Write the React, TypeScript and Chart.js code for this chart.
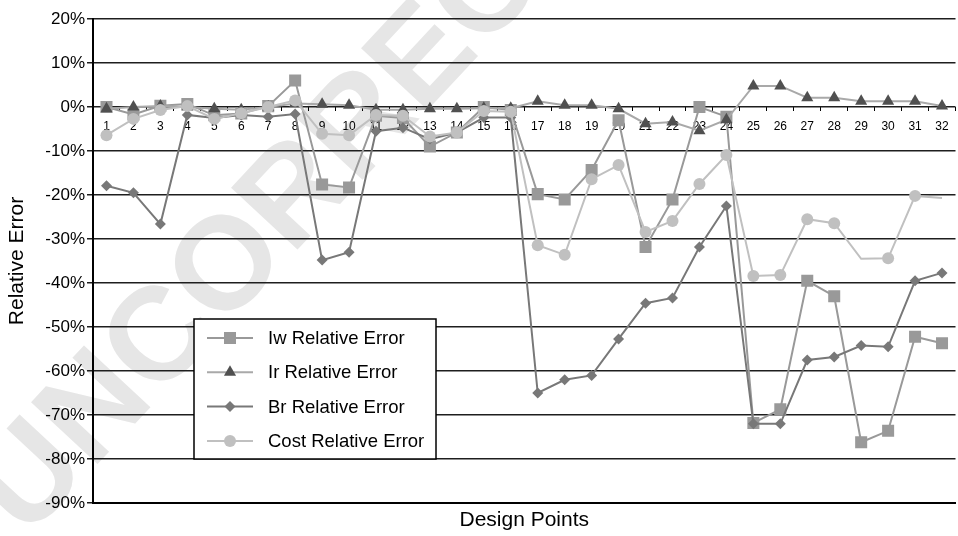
import React, { useEffect, useRef } from 'react';
import { Chart, registerables } from 'chart.js';

Chart.register(...registerables);

const designPoints = ['1', '2', '3', '4', '5', '6', '7', '8', '9', '10', '11', '12', '13', '14', '15', '16',
  '17', '18', '19', '20', '21', '22', '23', '24', '25', '26', '27', '28', '29', '30', '31', '32'];

const yTicks = [20, 10, 0, -10, -20, -30, -40, -50, -60, -70, -80, -90];

const iwRelativeError = [0, -1.7, 0.3, 0.7, -1.9, -1.5, 0.2, 6.0, -17.6, -18.3, -2.0, -2.5, -9.0, -5.8, 0.0, -0.7,
  -19.8, -21.0, -14.3, -3.0, -31.8, -21.0, 0.0, -2.2, -71.8, -68.7, -39.5, -43.0, -76.2, -73.6, -52.2, -53.7];

const irRelativeError = [-0.4, 0.0, 0.25, 0.0, -0.4, -0.6, 0.0, 0.8, 0.6, 0.4, -0.6, -0.6, -0.4, -0.4, -0.3, -0.3,
  1.3, 0.4, 0.4, -0.4, -3.8, -3.4, -5.4, -2.9, 4.8, 4.8, 2.1, 2.1, 1.3, 1.3, 1.3, 0.25];

const brRelativeError = [-17.9, -19.5, -26.6, -1.8, -2.5, -1.8, -2.2, -1.6, -34.8, -33.0, -5.5, -4.7, -7.3, -5.8, -2.4, -2.4,
  -65.0, -62.0, -61.0, -52.7, -44.6, -43.4, -31.8, -22.5, -72.0, -72.0, -57.5, -56.8, -54.2, -54.5, -39.5, -37.7];

const costRelativeError = [-6.4, -2.7, -0.7, 0.2, -2.7, -1.4, 0.0, 1.5, -6.1, -6.4, -1.8, -2.0, -6.7, -5.8, -0.9, -1.1,
  -31.4, -33.6, -16.4, -13.2, -28.4, -25.9, -17.5, -10.9, -38.4, -38.2, -25.5, -26.4, -34.5, -34.4, -20.2, -20.7];

// design points where the cost series shows no marker in the original
const costUnmarkedPoints = ['29', '32'];

const FONT = '"Liberation Sans", Arial, Helvetica, sans-serif';

type Series = {
  label: string;
  data: number[];
  line: string;
  fill: string;
  style: 'rect' | 'triangle' | 'rectRot' | 'circle';
  radius: number;
  order: number;
};

const series: Series[] = [
  { label: 'Iw Relative Error', data: iwRelativeError, line: '#999999', fill: '#999999', style: 'rect', radius: 8.5, order: 4 },
  { label: 'Ir Relative Error', data: irRelativeError, line: '#a9a9a9', fill: '#505050', style: 'triangle', radius: 7, order: 3 },
  { label: 'Br Relative Error', data: brRelativeError, line: '#787878', fill: '#787878', style: 'rectRot', radius: 5.5, order: 2 },
  { label: 'Cost Relative Error', data: costRelativeError, line: '#c0c0c0', fill: '#c0c0c0', style: 'circle', radius: 6, order: 1 },
];

function drawMarker(ctx: CanvasRenderingContext2D, style: string, x: number, y: number, r: number, color: string) {
  ctx.save();
  ctx.fillStyle = color;
  ctx.beginPath();
  if (style === 'rect') {
    const s = r * Math.SQRT2;
    ctx.rect(x - s / 2, y - s / 2, s, s);
  } else if (style === 'triangle') {
    ctx.moveTo(x, y - r);
    ctx.lineTo(x + 0.866 * r, y + 0.5 * r);
    ctx.lineTo(x - 0.866 * r, y + 0.5 * r);
    ctx.closePath();
  } else if (style === 'rectRot') {
    ctx.moveTo(x - r, y);
    ctx.lineTo(x, y - r);
    ctx.lineTo(x + r, y);
    ctx.lineTo(x, y + r);
    ctx.closePath();
  } else {
    ctx.arc(x, y, r, 0, Math.PI * 2);
  }
  ctx.fill();
  ctx.restore();
}

const watermarkPlugin = {
  id: 'watermark',
  beforeDraw(chart: any) {
    const ctx = chart.ctx as CanvasRenderingContext2D;
    ctx.save();
    ctx.translate(350, 140);
    ctx.rotate((-47 * Math.PI) / 180);
    ctx.font = `bold 132px ${FONT}`;
    ctx.fillStyle = '#e6e6e6';
    ctx.textAlign = 'center';
    ctx.textBaseline = 'middle';
    ctx.fillText('UNCORRECTED', 0, 0);
    ctx.restore();
  },
};

const legendBoxPlugin = {
  id: 'legendBox',
  afterDatasetsDraw(chart: any) {
    const ctx = chart.ctx as CanvasRenderingContext2D;
    const ca = chart.chartArea;
    const left = ca.left + 101;
    const top = ca.top + 300;
    const w = 242;
    const h = 140;
    ctx.save();
    ctx.fillStyle = '#ffffff';
    ctx.fillRect(left, top, w, h);
    ctx.strokeStyle = '#000000';
    ctx.lineWidth = 1.5;
    ctx.strokeRect(left, top, w, h);
    ctx.font = `18.5px ${FONT}`;
    ctx.textBaseline = 'middle';
    ctx.textAlign = 'left';
    series.forEach((s, i) => {
      const y = top + 19 + i * 34.3;
      ctx.strokeStyle = s.line;
      ctx.lineWidth = 2;
      ctx.beginPath();
      ctx.moveTo(left + 13, y);
      ctx.lineTo(left + 59, y);
      ctx.stroke();
      drawMarker(ctx, s.style, left + 36, y, s.radius, s.fill);
      ctx.fillStyle = '#000000';
      ctx.fillText(s.label, left + 74, y + 1);
    });
    ctx.restore();
  },
};

export default function App() {
  const canvasRef = useRef<HTMLCanvasElement | null>(null);

  useEffect(() => {
    if (!canvasRef.current) return;
    Chart.defaults.font.family = FONT;
    Chart.defaults.color = '#000';

    const chart = new Chart(canvasRef.current, {
      type: 'line',
      data: {
        labels: designPoints,
        datasets: series.map((s) => ({
          label: s.label,
          data: s.data,
          borderColor: s.line,
          backgroundColor: s.fill,
          borderWidth: 2,
          pointStyle: s.style,
          pointRadius: s.label.startsWith('Cost')
            ? designPoints.map((p) => (costUnmarkedPoints.includes(p) ? 0 : s.radius))
            : s.radius,
          pointBackgroundColor: s.fill,
          pointBorderColor: s.fill,
          pointBorderWidth: 0,
          tension: 0,
          fill: false,
          order: s.order,
          xAxisID: 'x',
          yAxisID: 'y',
        })),
      },
      options: {
        animation: false,
        responsive: false,
        devicePixelRatio: 1,
        layout: { padding: { top: 19, left: 0, right: 0, bottom: 0 } },
        plugins: {
          legend: { display: false },
          tooltip: { enabled: false },
          title: { display: false },
        },
        scales: {
          x: {
            type: 'category',
            offset: true,
            position: { y: 0 } as any,
            afterFit: (s: any) => { s.paddingLeft = 0; s.paddingRight = 0; },
            ticks: { font: { size: 12 }, color: '#000', padding: 8, autoSkip: false, maxRotation: 0 },
            grid: { display: true, offset: true, drawOnChartArea: false, drawTicks: true, tickLength: 4, color: '#000', lineWidth: 1 },
            border: { display: false },
          },
          x2: {
            type: 'category',
            labels: designPoints,
            offset: true,
            position: 'bottom',
            afterFit: (s: any) => { s.height = 33; s.paddingLeft = 0; s.paddingRight = 0; },
            ticks: { display: false },
            grid: { display: false },
            border: { display: true, color: '#000', width: 2 },
            title: { display: true, text: 'Design Points', font: { size: 21 }, color: '#000', padding: { top: 0, bottom: 3 } },
          },
          y: {
            type: 'linear',
            min: -90,
            max: 20,
            position: 'left',
            afterBuildTicks: (s: any) => { s.ticks = yTicks.map((v) => ({ value: v })); },
            afterFit: (s: any) => { s.width = 93; s.paddingTop = 0; s.paddingBottom = 0; },
            ticks: { callback: (v: any) => `${v}%`, font: { size: 17 }, color: '#000', padding: 2, autoSkip: false },
            grid: { color: '#1e1e1e', lineWidth: 1.5, tickLength: 6, drawTicks: true },
            border: { display: true, color: '#000', width: 2 },
            title: { display: true, text: 'Relative Error', font: { size: 21 }, color: '#000', padding: { top: 5, bottom: 0 } },
          },
        },
      },
      plugins: [watermarkPlugin, legendBoxPlugin],
    });

    return () => chart.destroy();
  }, []);

  return (
    <div style={{ position: 'fixed', left: 0, top: 0, width: 958, height: 536, overflow: 'hidden', background: '#fff' }}>
      <canvas ref={canvasRef} width={964} height={536} style={{ display: 'block', width: 964, height: 536 }} />
    </div>
  );
}
